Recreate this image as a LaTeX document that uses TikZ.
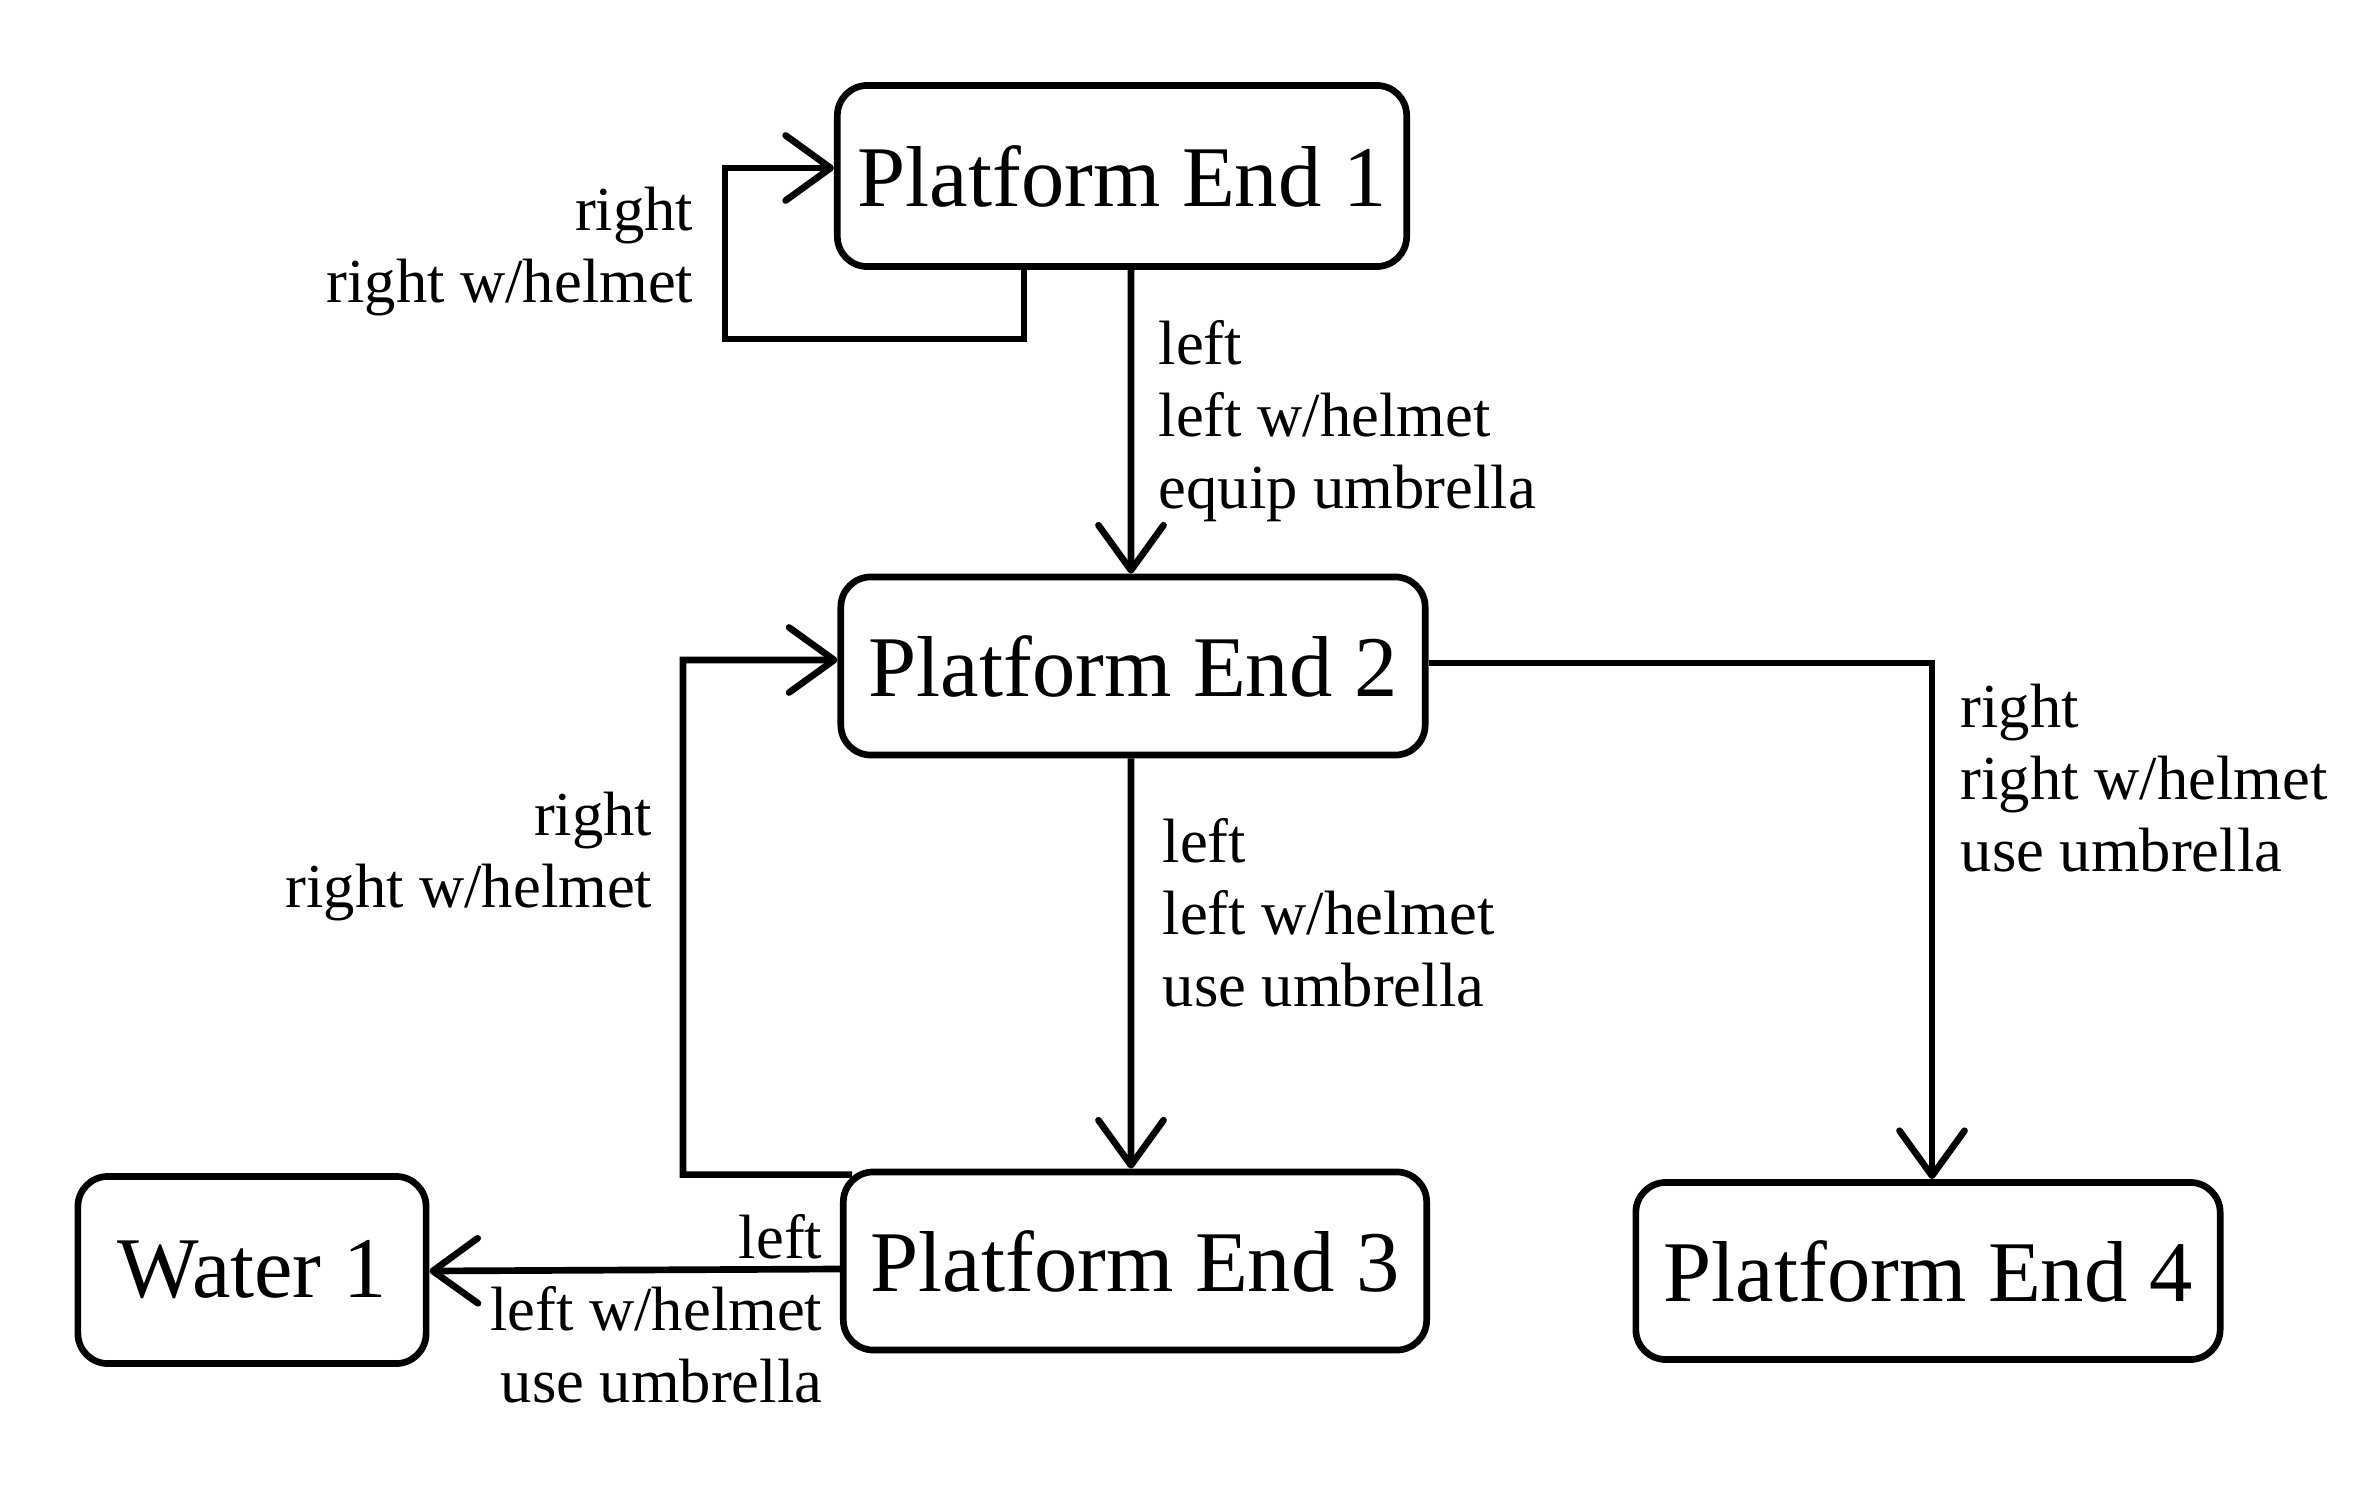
\documentclass[tikz,border=0pt]{standalone}
\usepackage{fontspec}
\setmainfont{Liberation Serif}
\usetikzlibrary{arrows.meta}
\begin{document}
\begin{tikzpicture}[x=0.01cm,y=-0.01cm,
  stbox/.style={draw,line width=1.9pt,rounded corners=0.3cm,inner sep=0pt,font=\fontsize{24.6}{30}\selectfont},
  lbl/.style={inner sep=0pt,font=\fontsize{17.8}{20.5}\selectfont},
  arr/.style={line width=1.9pt,-{Straight Barb[length=4.5mm,width=6.5mm,round]}},
  ]
\useasboundingbox (0,0) rectangle (2362,1500);
\node[stbox,minimum width=5.69cm,minimum height=1.81cm] (pe1) at (1122,176) {Platform End 1};
\node[stbox,minimum width=5.84cm,minimum height=1.78cm] (pe2) at (1133,666) {Platform End 2};
\node[stbox,minimum width=5.83cm,minimum height=1.78cm] (pe3) at (1135,1261) {Platform End 3};
\node[stbox,minimum width=5.84cm,minimum height=1.77cm] (pe4) at (1928,1271) {Platform End 4};
\node[stbox,minimum width=3.48cm,minimum height=1.87cm] (w1) at (252,1270) {Water 1};

\coordinate (loopc) at (725,339);
\coordinate (backc) at (683,660);

% self loop on Platform End 1
\draw[arr] ([xshift=-0.98cm]pe1.south) |- (loopc) |- ([yshift=0.08cm]pe1.west);
\node[lbl,anchor=north east,align=right] (l1) at (694,186) {right\\right w/helmet};

% PE1 -> PE2
\draw[arr] ([xshift=0.09cm]pe1.south) -- ([xshift=-0.02cm]pe2.north);
\node[lbl,anchor=north west,align=left] (l2) at (1158,320) {left\\left w/helmet\\equip umbrella};

% PE3 -> PE2
\draw[arr] ([shift={(0.12cm,-0.06cm)}]pe3.north west) -| (backc) -- ([yshift=0.06cm]pe2.west);
\node[lbl,anchor=north east,align=right] (l3) at (653,791) {right\\right w/helmet};

% PE2 -> PE3
\draw[arr] ([xshift=-0.02cm]pe2.south) -- ([xshift=-0.04cm]pe3.north);
\node[lbl,anchor=north west,align=left] (l4) at (1162,818) {left\\left w/helmet\\use umbrella};

% PE2 -> PE4
\draw[arr] ([yshift=0.03cm]pe2.east) -| ([xshift=0.04cm]pe4.north);
\node[lbl,anchor=north west,align=left] (l5) at (1960,683) {right\\right w/helmet\\use umbrella};

% PE3 -> Water 1
\draw[arr] ([yshift=-0.08cm]pe3.west) -- ([yshift=-0.01cm]w1.east);
\node[lbl,anchor=north east,align=right] (l6) at (823,1214) {left\\left w/helmet\\use umbrella};
\end{tikzpicture}
\end{document}
